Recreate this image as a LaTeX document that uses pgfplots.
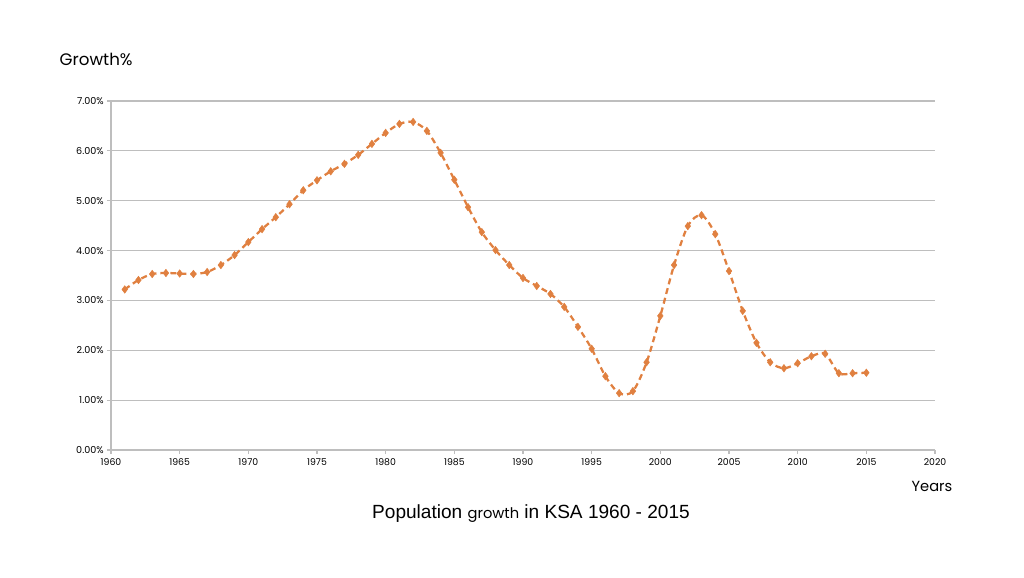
\documentclass[border=0pt]{standalone}
\usepackage{pgfplots}
\pgfplotsset{compat=1.18}
\usepackage{fontspec}
\setmainfont{Poppins}
\newfontfamily\arialfont{Liberation Sans}
\definecolor{lineorange}{RGB}{224,128,64}
\definecolor{gridgray}{RGB}{190,190,190}
\begin{document}
\begin{tikzpicture}
\useasboundingbox (-83.25pt,-96pt) rectangle (684.75pt,337.5pt);
\begin{axis}[
  at={(0pt,0pt)}, anchor=south west,
  scale only axis,
  width=618pt, height=261.75pt,
  xmin=1960, xmax=2020, ymin=0, ymax=7,
  xtick={1960,1965,...,2020},
  ytick={0,1,...,7},
  axis lines*=left,
  axis line style={gridgray, line width=0.8pt},
  ymajorgrids, grid style={gridgray, line width=0.8pt},
  tick align=outside, major tick length=3pt,
  tick style={gridgray, line width=0.8pt},
  x tick label style={font=\fontsize{7}{8}\selectfont},
  y tick label style={font=\fontsize{7.2}{8}\selectfont, xshift=1pt},
  /pgf/number format/assume math mode=true,
  xticklabel={\pgfmathprintnumber[1000 sep={}]{\tick}},
  yticklabel={\pgfmathprintnumber[fixed,fixed zerofill,precision=2]{\tick}\%},
  clip=false,
]
\addplot[color=lineorange, line width=1.7pt, dash pattern=on 4.5pt off 3pt, smooth, tension=0.5,
  mark=diamond*, mark size=2.8pt, mark options={solid, fill=lineorange, draw=lineorange, line width=0.4pt}]
coordinates {
(1961,3.22) (1962,3.41) (1963,3.53) (1964,3.55) (1965,3.54) (1966,3.53) (1967,3.57)
(1968,3.71) (1969,3.91) (1970,4.17) (1971,4.43) (1972,4.67) (1973,4.93) (1974,5.21)
(1975,5.41) (1976,5.59) (1977,5.74) (1978,5.92) (1979,6.14) (1980,6.36) (1981,6.54)
(1982,6.58) (1983,6.40) (1984,5.96) (1985,5.42) (1986,4.87) (1987,4.37) (1988,4.01)
(1989,3.71) (1990,3.45) (1991,3.29) (1992,3.13) (1993,2.87) (1994,2.47) (1995,2.03)
(1996,1.48) (1997,1.14) (1998,1.18) (1999,1.76) (2000,2.69) (2001,3.71) (2002,4.49)
(2003,4.71) (2004,4.33) (2005,3.59) (2006,2.79) (2007,2.15) (2008,1.76) (2009,1.64)
(2010,1.74) (2011,1.88) (2012,1.93) (2013,1.54) (2014,1.54) (2015,1.55)
};
\end{axis}
\node[anchor=west, font=\fontsize{12.5}{14}\selectfont] at (-42pt,293.25pt) {Growth\%};
\node[font=\fontsize{11}{13}\selectfont] at (615.75pt,-27pt) {Years};
\node[font=\arialfont\fontsize{14.3}{17}\selectfont] at (315pt,-48pt) {Population {\rmfamily\fontsize{11}{13}\selectfont growth} in KSA 1960 - 2015};
\end{tikzpicture}
\end{document}
